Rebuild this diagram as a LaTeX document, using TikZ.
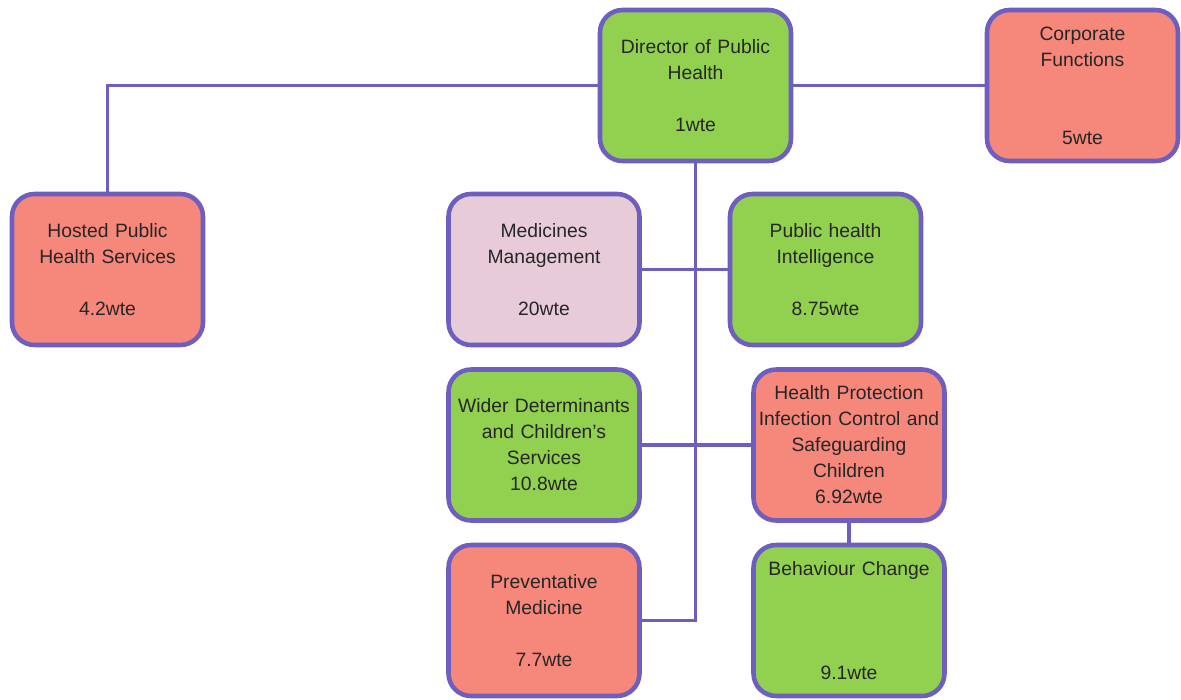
\documentclass[tikz,border=0pt]{standalone}
\usepackage{fontspec}
\setmainfont{Liberation Sans}
\definecolor{unitline}{HTML}{6E5EC0}
\definecolor{unitgreen}{HTML}{92D050}
\definecolor{unitred}{HTML}{F6877B}
\definecolor{unitpink}{HTML}{E8CBD9}
\begin{document}
\begin{tikzpicture}[x=0.02cm,y=-0.02cm,
    unit/.style={draw=unitline,line width=2.6pt,rounded corners=0.45cm,
      minimum width=3.82cm,minimum height=3.02cm,inner sep=0pt,
      text width=3.8cm,align=center,text=black!85,
      font=\fontsize{11}{14.8}\selectfont},
    green unit/.style={unit,fill=unitgreen},
    red unit/.style={unit,fill=unitred},
    pink unit/.style={unit,fill=unitpink},
    link/.style={draw=unitline,line width=2.2pt}]
  \useasboundingbox (0,0) rectangle (1181,700);
  \draw
    (695.5,85.5) node[green unit] (dir){Director of Public\\Health\\~\\1wte}
    (1082.5,85.5) node[red unit] (corp){Corporate\\Functions\\~\\~\\5wte}
    (107.5,269.5) node[red unit] (hosted){Hosted Public\\Health Services\\~\\4.2wte}
    (544,269.5) node[pink unit] (med){Medicines\\Management\\~\\20wte}
    (825.5,269.5) node[green unit] (intel){Public health\\Intelligence\\~\\8.75wte}
    (544,445) node[green unit] (wider){Wider Determinants\\and Children's\\Services\\10.8wte}
    (849,445) node[red unit] (prot){Health Protection\\Infection Control and\\Safeguarding\\Children\\6.92wte}
    (544,620.5) node[red unit] (prev){Preventative\\Medicine\\~\\7.7wte}
    (849,620.5) node[green unit] (behav){Behaviour Change\\~\\~\\~\\9.1wte};
  \begin{scope}[link]
    \draw (dir.south) |- (prev.east);
    \draw (dir.west) -| (hosted.north);
    \draw (dir.east) to (corp.west);
    \draw (med.east) to (intel.west);
    \draw (wider.east) to (prot.west);
    \draw (prot.south) to (behav.north);
  \end{scope}
\end{tikzpicture}
\end{document}
